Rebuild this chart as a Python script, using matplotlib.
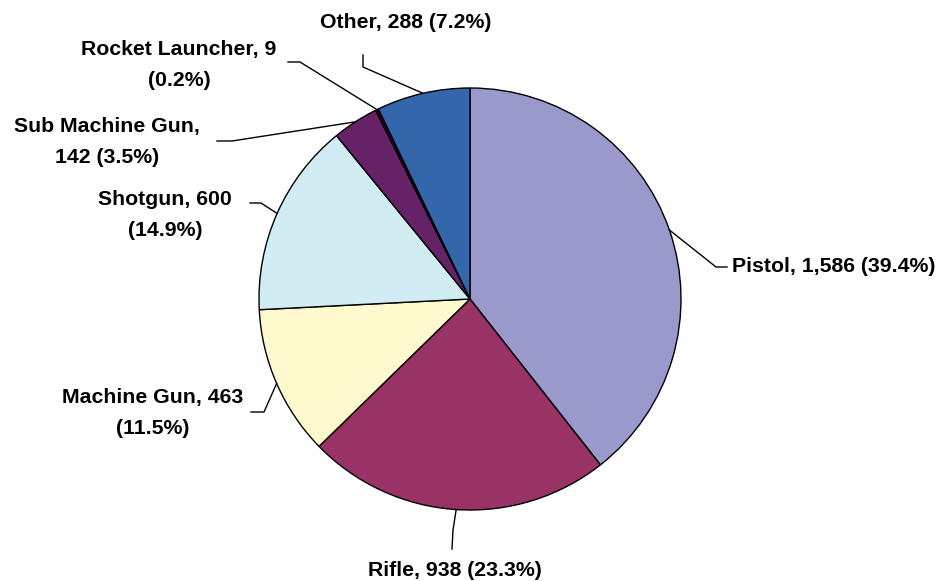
import matplotlib.pyplot as plt
import numpy as np

labels = ["Pistol", "Rifle", "Machine Gun", "Shotgun", "Sub Machine Gun",
          "Rocket Launcher", "Other"]
counts = [1586, 938, 463, 600, 142, 9, 288]
colors = ["#9999CC", "#993366", "#FFFACD", "#D2ECF3", "#662266", "#330033", "#3366AA"]

# label text, split into lines as in the chart
texts = [
    "Pistol, 1,586 (39.4%)",
    "Rifle, 938 (23.3%)",
    "Machine Gun, 463\n(11.5%)",
    "Shotgun, 600\n(14.9%)",
    "Sub Machine Gun,\n142 (3.5%)",
    "Rocket Launcher, 9\n(0.2%)",
    "Other, 288 (7.2%)",
]

# layout in pixels: (elbow x, elbow y, end x, end y, text x, text y, ha)
W, H = 939, 581
cx, cy, R = 470, 299, 211
layout = [
    (716, 267, 727, 267, 732, 267, "left"),
    (453, 530, 452, 549, 455, 570, "center"),
    (264, 412, 251, 412, 153, 413, "center"),
    (261, 203, 250, 203, 165, 215, "center"),
    (232, 141, 217, 141, 107, 142, "center"),
    (300, 62, 288, 62, 179, 65, "center"),
    (363, 67, 363, 55, 406, 23, "center"),
]

def to_data(px, py):
    return (px - cx) / R, (cy - py) / R

fig = plt.figure(figsize=(W / 100, H / 100), dpi=100)
ax = fig.add_axes([0, 0, 1, 1])
wedges, _ = ax.pie(counts, colors=colors, startangle=90, counterclock=False,
                   radius=1, wedgeprops=dict(edgecolor="black", linewidth=1))
ax.set_xlim(-cx / R, (W - cx) / R)
ax.set_ylim(-(H - cy) / R, cy / R)
ax.set_aspect("equal")
ax.axis("off")

for w, t, (ex, ey, fx, fy, tx, ty, ha) in zip(wedges, texts, layout):
    ang = np.deg2rad((w.theta1 + w.theta2) / 2)
    x0, y0 = np.cos(ang), np.sin(ang)
    x1, y1 = to_data(ex, ey)
    x2, y2 = to_data(fx, fy)
    ax.plot([x0, x1, x2], [y0, y1, y2], color="black", lw=1)
    lx, ly = to_data(tx, ty)
    ax.text(lx, ly, t, ha=ha, va="center", fontsize=15.3, fontweight="bold",
            family="Liberation Sans", linespacing=1.75, multialignment="center")

fig.savefig("out.png", dpi=100)
